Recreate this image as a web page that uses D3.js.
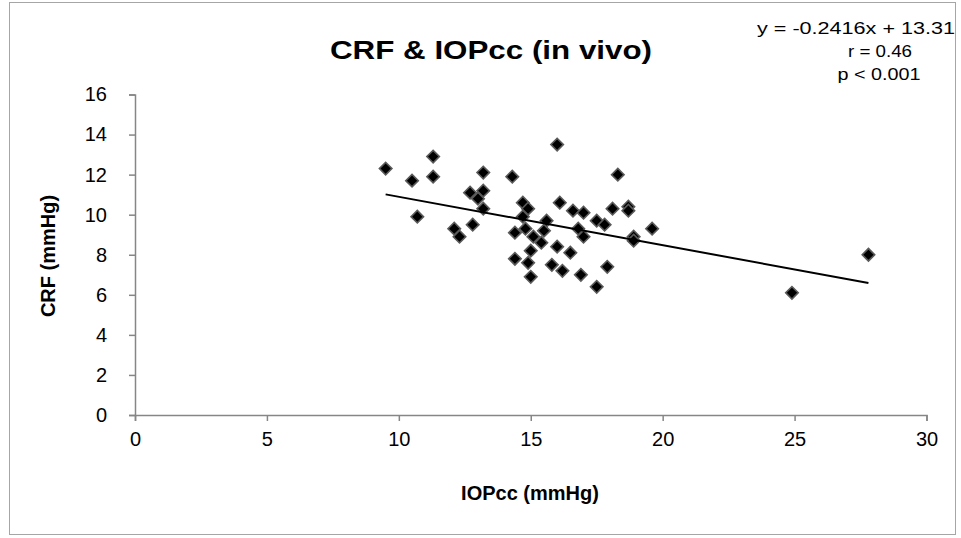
<!DOCTYPE html>
<html><head><meta charset="utf-8">
<script src="https://cdn.jsdelivr.net/npm/d3@7"></script>
<style>html,body{margin:0;padding:0;background:#fff;}svg{display:block;font-family:"Liberation Sans",Arial,sans-serif;}</style>
</head><body>
<svg id="chart" width="961" height="538"></svg>
<script>
const iopcc = [9.5,10.5,10.7,11.3,11.3,12.1,12.3,12.7,12.8,13.0,13.2,13.2,13.2,14.3,14.7,14.9,14.7,14.4,14.8,15.5,15.1,15.4,15.6,16.0,16.1,16.6,17.0,17.5,17.8,16.8,17.0,16.0,15.0,16.5,14.4,14.9,15.0,15.8,16.2,16.9,17.5,17.9,18.3,18.1,18.7,18.7,19.6,18.9,18.9,24.9,27.8];
const crf   = [12.3,11.7,9.9,12.9,11.9,9.3,8.9,11.1,9.5,10.8,12.1,11.2,10.3,11.9,10.6,10.3,9.9,9.1,9.3,9.2,8.9,8.6,9.7,13.5,10.6,10.2,10.1,9.7,9.5,9.3,8.9,8.4,8.2,8.1,7.8,7.6,6.9,7.5,7.2,7.0,6.4,7.4,12.0,10.3,10.4,10.2,9.3,8.9,8.7,6.1,8.0];
const xTicks = [0,5,10,15,20,25,30];
const yTicks = [0,2,4,6,8,10,12,14,16];
const slope = -0.2416, intercept = 13.31;
const titleText = "CRF & IOPcc (in vivo)";
const xTitle = "IOPcc (mmHg)";
const yTitle = "CRF (mmHg)";
const statLines = ["y = -0.2416x + 13.31", "r = 0.46", "p < 0.001"];

const FONT = "'Liberation Sans',Arial,sans-serif";
const svg = d3.select("#chart");
svg.append("rect").attr("x",9.5).attr("y",2.5).attr("width",946).attr("height",532)
  .attr("fill","#fff").attr("stroke","#a6a6a6").attr("stroke-width",1);

const x = d3.scaleLinear().domain([0,30]).range([135,926.5]);
const y = d3.scaleLinear().domain([0,16]).range([415,94.5]);
const axisColor = "#868686";

// x axis
const gx = svg.append("g").attr("transform",`translate(0,${y(0)})`)
  .call(d3.axisBottom(x).tickValues(xTicks).tickSize(6).tickPadding(11).tickFormat(d3.format("d")));
gx.select(".domain").attr("stroke",axisColor).attr("stroke-width",1.5);
gx.selectAll(".tick line").attr("stroke",axisColor).attr("stroke-width",1.5);
gx.selectAll(".tick text").attr("font-size",20).attr("fill","#000").attr("font-family",FONT);

// y axis
const gy = svg.append("g").attr("transform",`translate(${x(0)},0)`)
  .call(d3.axisLeft(y).tickValues(yTicks).tickSize(6).tickPadding(22).tickFormat(d3.format("d")));
gy.select(".domain").attr("stroke",axisColor).attr("stroke-width",1.5);
gy.selectAll(".tick line").attr("stroke",axisColor).attr("stroke-width",1.5);
gy.selectAll(".tick text").attr("font-size",20).attr("fill","#000").attr("font-family",FONT);

// points
const pts = iopcc.map((v,i)=>({x:v,y:crf[i]}));
svg.append("g").selectAll("path").data(pts).join("path")
  .attr("d", d3.symbol().type(d3.symbolSquare).size(78))
  .attr("transform", d=>`translate(${x(d.x)},${y(d.y)}) rotate(45)`)
  .attr("fill","#000").attr("stroke","#5a5a5a").attr("stroke-width",1.6);

// trendline
const xmin = d3.min(iopcc), xmax = d3.max(iopcc);
svg.append("line")
  .attr("x1",x(xmin)).attr("y1",y(slope*xmin+intercept))
  .attr("x2",x(xmax)).attr("y2",y(slope*xmax+intercept))
  .attr("stroke","#000").attr("stroke-width",2);

// title
svg.append("text").attr("x",491).attr("y",59).attr("text-anchor","middle")
  .attr("font-size",25).attr("font-weight","bold").attr("fill","#000").attr("font-family",FONT)
  .attr("textLength",322).attr("lengthAdjust","spacingAndGlyphs").text(titleText);

// axis titles
svg.append("text").attr("x",530).attr("y",500).attr("text-anchor","middle").attr("font-family",FONT)
  .attr("font-size",20).attr("font-weight","bold").text(xTitle);
svg.append("text").attr("transform","translate(55,256) rotate(-90)").attr("text-anchor","middle").attr("font-family",FONT)
  .attr("font-size",20).attr("font-weight","bold").text(yTitle);

// stats
svg.append("text").attr("x",955).attr("y",34).attr("text-anchor","end").attr("font-size",16).attr("font-family",FONT)
  .attr("textLength",198).attr("lengthAdjust","spacingAndGlyphs").text(statLines[0]);
svg.append("text").attr("x",880).attr("y",57).attr("text-anchor","middle").attr("font-size",16).attr("font-family",FONT)
  .attr("textLength",64).attr("lengthAdjust","spacingAndGlyphs").text(statLines[1]);
svg.append("text").attr("x",879).attr("y",80).attr("text-anchor","middle").attr("font-size",16).attr("font-family",FONT)
  .attr("textLength",83).attr("lengthAdjust","spacingAndGlyphs").text(statLines[2]);
</script>
</body></html>
